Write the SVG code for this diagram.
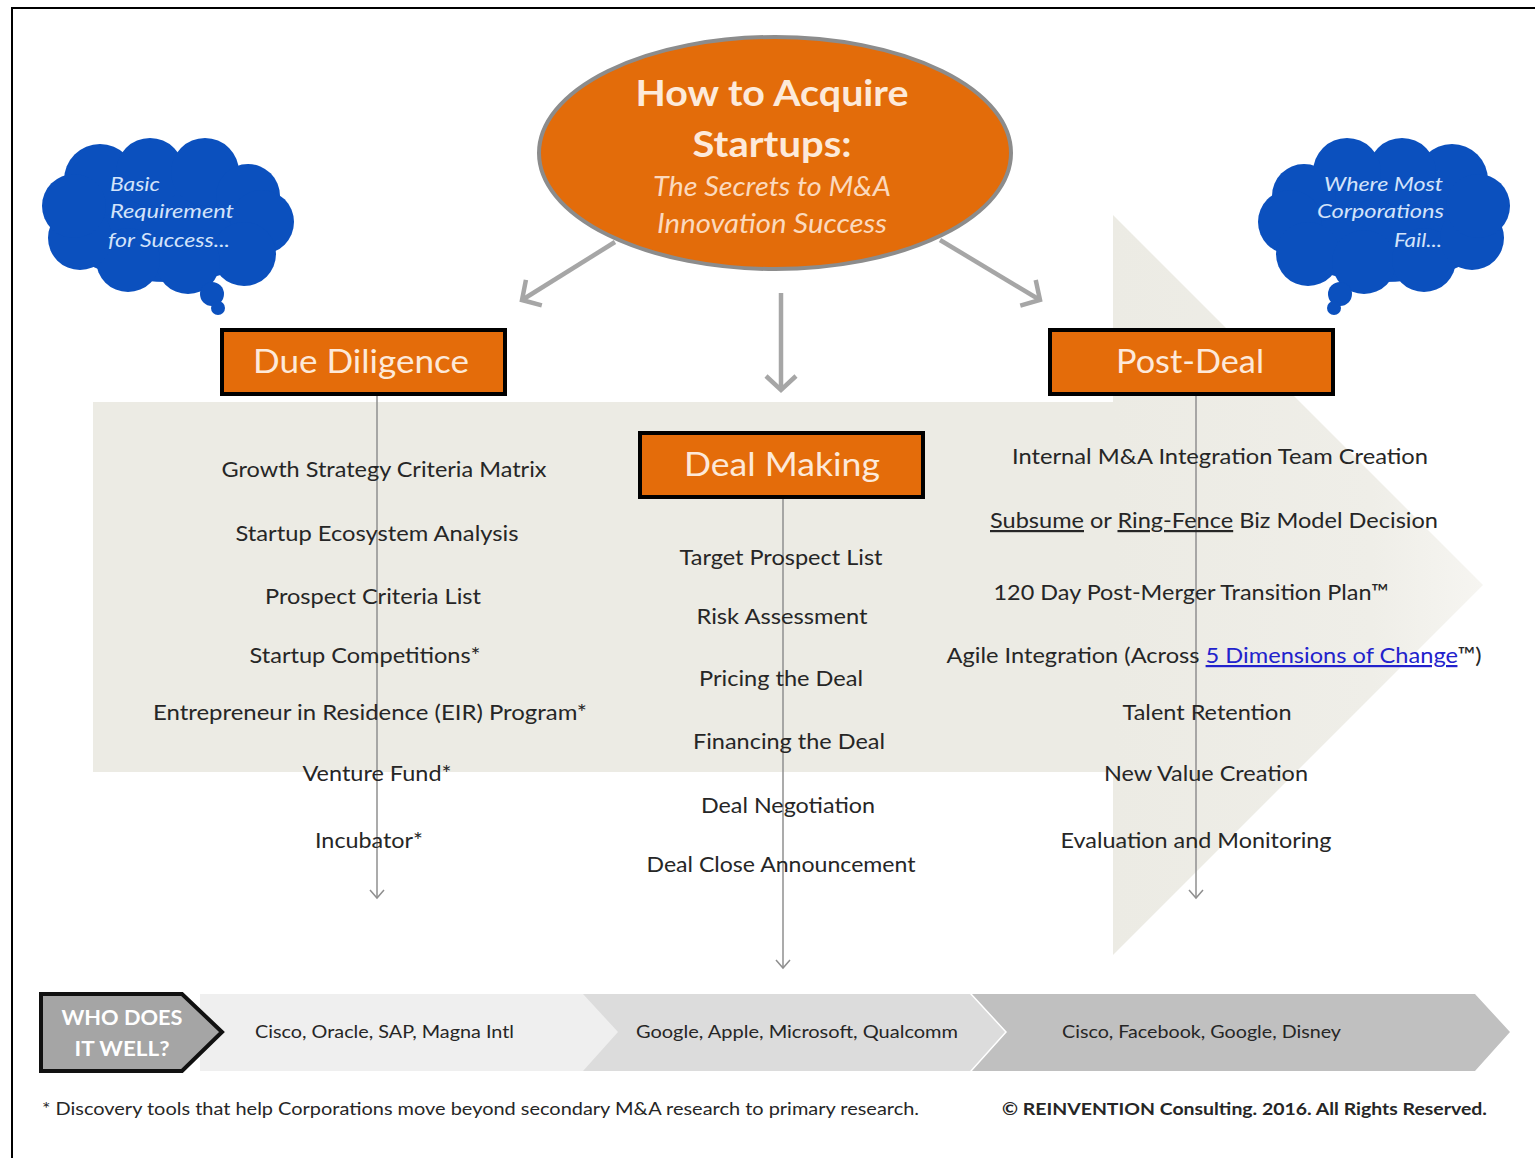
<svg xmlns="http://www.w3.org/2000/svg" width="1535" height="1158" viewBox="0 0 1535 1158">
<style>
.body{font-family:Lato,"Open Sans","Liberation Sans",sans-serif;font-size:22px;fill:#262626;text-anchor:middle}
.box{fill:#e46c0a;stroke:#000;stroke-width:4}
.boxt{font-family:Lato,"Open Sans","Liberation Sans",sans-serif;font-size:32px;fill:#fde9d9;text-anchor:middle}
.cloud{fill:#0b50be}
.cloudt{font-family:Lato,"Open Sans","Liberation Sans",sans-serif;font-size:20px;font-style:italic;fill:#d3e3fa}
.band{font-family:Lato,"Open Sans","Liberation Sans",sans-serif;font-size:18px;fill:#262626}
.thin{stroke:#8f8f8f;stroke-width:1.5;fill:none}
.thick{stroke:#a6a6a6;stroke-width:4.5;fill:none}
.u{text-decoration:underline}
</style>
<defs>
<linearGradient id="fade" x1="0" y1="0" x2="1" y2="0">
<stop offset="0" stop-color="#ecebe4"/>
<stop offset="0.7" stop-color="#efeee8"/>
<stop offset="1" stop-color="#f6f5f1"/>
</linearGradient>
<marker id="thinhead" markerWidth="16" markerHeight="16" refX="14" refY="8" orient="auto" markerUnits="userSpaceOnUse" viewBox="0 0 16 16">
<path d="M6,1 L14,8 L6,15" fill="none" stroke="#8f8f8f" stroke-width="1.5"/>
</marker>
<marker id="thickhead" markerWidth="40" markerHeight="40" refX="34" refY="20" orient="auto" markerUnits="userSpaceOnUse" viewBox="0 0 40 40">
<path d="M20,5 L34,20 L20,35" fill="none" stroke="#a6a6a6" stroke-width="4.5"/>
</marker>
<g id="cloudshape">
<ellipse cx="168" cy="218" rx="116" ry="64"/>
<circle cx="100" cy="180" r="36"/>
<circle cx="150" cy="172" r="34"/>
<circle cx="205" cy="172" r="34"/>
<circle cx="248" cy="196" r="32"/>
<circle cx="262" cy="222" r="32"/>
<circle cx="244" cy="254" r="32"/>
<circle cx="188" cy="262" r="32"/>
<circle cx="128" cy="260" r="32"/>
<circle cx="80" cy="238" r="32"/>
<circle cx="74" cy="206" r="32"/>
<circle cx="212" cy="294" r="12"/>
<circle cx="218" cy="308" r="7"/>
</g>
</defs>
<rect x="0" y="0" width="1535" height="1158" fill="#fff"/>
<rect x="12" y="8" width="1540" height="1170" fill="none" stroke="#000" stroke-width="2"/>

<g id="backdrop">
<rect x="93" y="402" width="1022" height="370" fill="#ecebe4"/>
<path d="M1113,215 L1483,585 L1113,955 Z" fill="url(#fade)"/>
</g>

<g id="cloud-left" class="cloud">
<use href="#cloudshape"/>
<text class="cloudt" x="110" y="191" textLength="50" lengthAdjust="spacingAndGlyphs">Basic</text>
<text class="cloudt" x="110" y="218" textLength="124" lengthAdjust="spacingAndGlyphs">Requirement</text>
<text class="cloudt" x="108" y="247" textLength="122" lengthAdjust="spacingAndGlyphs">for Success...</text>
</g>
<g id="cloud-right">
<use href="#cloudshape" class="cloud" transform="translate(1552,0) scale(-1,1)"/>
<text class="cloudt" x="1443" y="191" text-anchor="end" textLength="119" lengthAdjust="spacingAndGlyphs">Where Most</text>
<text class="cloudt" x="1444" y="218" text-anchor="end" textLength="127" lengthAdjust="spacingAndGlyphs">Corporations</text>
<text class="cloudt" x="1442" y="247" text-anchor="end" textLength="48" lengthAdjust="spacingAndGlyphs">Fail...</text>
</g>

<g id="connectors">
<line class="thick" x1="615" y1="242" x2="522" y2="300" marker-end="url(#thickhead)"/>
<line class="thick" x1="781" y1="293" x2="781" y2="390" marker-end="url(#thickhead)"/>
<line class="thick" x1="940" y1="240" x2="1040" y2="300" marker-end="url(#thickhead)"/>
<line class="thin" x1="377" y1="394" x2="377" y2="898" marker-end="url(#thinhead)"/>
<line class="thin" x1="783" y1="497" x2="783" y2="968" marker-end="url(#thinhead)"/>
<line class="thin" x1="1196" y1="394" x2="1196" y2="898" marker-end="url(#thinhead)"/>
</g>

<g id="title">
<ellipse cx="775" cy="153" rx="236" ry="116" fill="#e36c0a" stroke="#8c8c8c" stroke-width="4"/>
<text x="772" y="106" font-family="Lato,'Open Sans','Liberation Sans',sans-serif" font-size="37" font-weight="bold" fill="#fdeada" text-anchor="middle" textLength="273" lengthAdjust="spacingAndGlyphs">How to Acquire</text>
<text x="772" y="157" font-family="Lato,'Open Sans','Liberation Sans',sans-serif" font-size="37" font-weight="bold" fill="#fdeada" text-anchor="middle" textLength="159" lengthAdjust="spacingAndGlyphs">Startups:</text>
<text x="772" y="196" font-family="Lato,'Open Sans','Liberation Sans',sans-serif" font-size="27" font-style="italic" fill="#fbd9bd" text-anchor="middle" textLength="238" lengthAdjust="spacingAndGlyphs">The Secrets to M&amp;A</text>
<text x="772" y="233" font-family="Lato,'Open Sans','Liberation Sans',sans-serif" font-size="27" font-style="italic" fill="#fbd9bd" text-anchor="middle" textLength="230" lengthAdjust="spacingAndGlyphs">Innovation Success</text>
</g>

<g id="due-diligence">
<rect class="box" x="222" y="330" width="283" height="64"/>
<text class="boxt" x="361" y="373" textLength="216" lengthAdjust="spacingAndGlyphs">Due Diligence</text>
<text class="body" x="384" y="477" textLength="325" lengthAdjust="spacingAndGlyphs">Growth  Strategy Criteria Matrix</text>
<text class="body" x="377" y="541" textLength="283" lengthAdjust="spacingAndGlyphs">Startup  Ecosystem Analysis</text>
<text class="body" x="373" y="604" textLength="216" lengthAdjust="spacingAndGlyphs">Prospect  Criteria List</text>
<text class="body" x="365" y="663" textLength="231" lengthAdjust="spacingAndGlyphs">Startup  Competitions*</text>
<text class="body" x="370" y="720" textLength="434" lengthAdjust="spacingAndGlyphs">Entrepreneur  in Residence (EIR) Program*</text>
<text class="body" x="377" y="781" textLength="149" lengthAdjust="spacingAndGlyphs">Venture  Fund*</text>
<text class="body" x="369" y="848" textLength="108" lengthAdjust="spacingAndGlyphs">Incubator*</text>
</g>

<g id="deal-making">
<rect class="box" x="640" y="433" width="283" height="64"/>
<text class="boxt" x="782" y="476" textLength="196" lengthAdjust="spacingAndGlyphs">Deal Making</text>
<text class="body" x="781" y="565" textLength="203" lengthAdjust="spacingAndGlyphs">Target Prospect List</text>
<text class="body" x="782" y="624" textLength="171" lengthAdjust="spacingAndGlyphs">Risk Assessment</text>
<text class="body" x="781" y="686" textLength="164" lengthAdjust="spacingAndGlyphs">Pricing the  Deal</text>
<text class="body" x="789" y="749" textLength="192" lengthAdjust="spacingAndGlyphs">Financing the  Deal</text>
<text class="body" x="788" y="813" textLength="174" lengthAdjust="spacingAndGlyphs">Deal Negotiation</text>
<text class="body" x="781" y="872" textLength="269" lengthAdjust="spacingAndGlyphs">Deal Close Announcement</text>
</g>

<g id="post-deal">
<rect class="box" x="1050" y="330" width="283" height="64"/>
<text class="boxt" x="1190" y="373" textLength="148" lengthAdjust="spacingAndGlyphs">Post-Deal</text>
<text class="body" x="1220" y="464" textLength="416" lengthAdjust="spacingAndGlyphs">Internal M&amp;A Integration Team Creation</text>
<text class="body" x="1214" y="528" textLength="448" lengthAdjust="spacingAndGlyphs"><tspan class="u">Subsume</tspan> or <tspan class="u">Ring-Fence</tspan> Biz Model  Decision</text>
<text class="body" x="1191" y="600" textLength="395" lengthAdjust="spacingAndGlyphs">120 Day Post-Merger Transition Plan™</text>
<text class="body" x="1214" y="663" textLength="535" lengthAdjust="spacingAndGlyphs">Agile Integration (Across <tspan class="u" fill="#2222cc">5 Dimensions of Change</tspan>™)</text>
<text class="body" x="1207" y="720" textLength="169" lengthAdjust="spacingAndGlyphs">Talent Retention</text>
<text class="body" x="1206" y="781" textLength="204" lengthAdjust="spacingAndGlyphs">New Value Creation</text>
<text class="body" x="1196" y="848" textLength="271" lengthAdjust="spacingAndGlyphs">Evaluation and Monitoring</text>
</g>

<g id="who-band">
<path d="M200,994 L585,994 L620,1032 L585,1071 L200,1071 Z" fill="#efefef"/>
<path d="M583,994 L970,994 L1005,1032 L970,1071 L583,1071 L618,1032 Z" fill="#dcdcdc"/>
<path d="M972,994 L1475,994 L1510,1032 L1475,1071 L972,1071 L1007,1032 Z" fill="#c0c0c0"/>
<path d="M41,994 L182,994 L222,1032 L182,1071 L41,1071 Z" fill="#a5a5a5" stroke="#111" stroke-width="4" stroke-linejoin="miter"/>
<text x="122" y="1025" font-family="Lato,'Open Sans','Liberation Sans',sans-serif" font-size="21" font-weight="bold" fill="#fff" text-anchor="middle" textLength="121" lengthAdjust="spacingAndGlyphs">WHO DOES</text>
<text x="122" y="1056" font-family="Lato,'Open Sans','Liberation Sans',sans-serif" font-size="21" font-weight="bold" fill="#fff" text-anchor="middle" textLength="95" lengthAdjust="spacingAndGlyphs">IT WELL?</text>
<text class="band" x="255" y="1038" textLength="259" lengthAdjust="spacingAndGlyphs">Cisco, Oracle, SAP, Magna Intl</text>
<text class="band" x="636" y="1038" textLength="322" lengthAdjust="spacingAndGlyphs">Google,  Apple, Microsoft, Qualcomm</text>
<text class="band" x="1062" y="1038" textLength="279" lengthAdjust="spacingAndGlyphs">Cisco, Facebook, Google,  Disney</text>
</g>

<g id="footer">
<text x="42" y="1115" font-family="Lato,'Open Sans','Liberation Sans',sans-serif" font-size="17" fill="#262626" textLength="877" lengthAdjust="spacingAndGlyphs">* Discovery tools that help Corporations move beyond  secondary M&amp;A research to primary research.</text>
<text x="1002" y="1115" font-family="Lato,'Open Sans','Liberation Sans',sans-serif" font-size="17" font-weight="bold" fill="#262626" textLength="485" lengthAdjust="spacingAndGlyphs">© REINVENTION  Consulting.  2016. All Rights  Reserved.</text>
</g>
</svg>
